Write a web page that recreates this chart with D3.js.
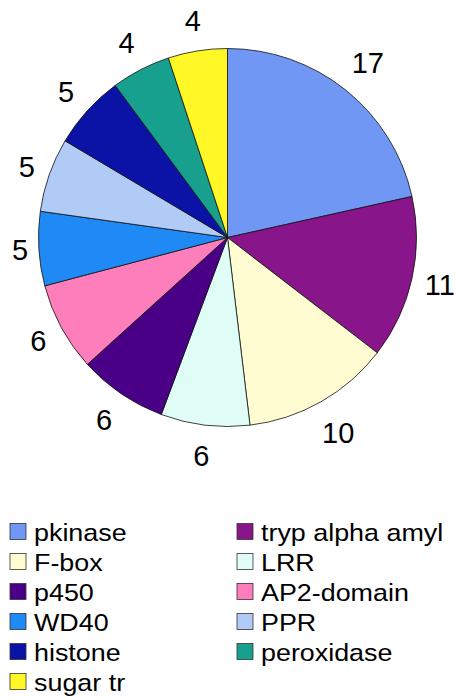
<!DOCTYPE html>
<html>
<head>
<meta charset="utf-8">
<script src="https://cdn.jsdelivr.net/npm/d3@7"></script>
<style>
  body { margin: 0; background: #fff; }
  text { font-family: "Liberation Sans", Arial, sans-serif; fill: #000; }
</style>
</head>
<body>
<div id="chart"></div>
<script>
// gene families, in clockwise order from 12 o'clock
const families = ["pkinase", "tryp alpha amyl", "F-box", "LRR", "p450", "AP2-domain",
                  "WD40", "PPR", "histone", "peroxidase", "sugar tr"];
const counts = [17, 11, 10, 6, 6, 6, 5, 5, 5, 4, 4];
const colors = ["#6f97f3", "#88168a", "#fffcd2", "#dffdf6", "#4a0086", "#fd7eba",
                "#1f8af5", "#b1cbf7", "#0b12a6", "#17a08e", "#fff726"];

const width = 458, height = 700;
const cx = 227.5, cy = 237.5, radius = 189;

const svg = d3.select("#chart")
    .append("svg")
    .attr("width", width)
    .attr("height", height);

svg.append("rect")
    .attr("width", width)
    .attr("height", height)
    .attr("fill", "#fff");

let data = families.map((f, i) => ({ name: f, value: counts[i], color: colors[i] }));

let pie = d3.pie()
    .sort(null)
    .value(d => d.value);

let arc = d3.arc()
    .innerRadius(0)
    .outerRadius(radius);

let arcs = pie(data);

let g = svg.append("g")
    .attr("transform", `translate(${cx},${cy})`);

g.selectAll("path.slice")
    .data(arcs)
    .enter()
    .append("path")
    .attr("class", "slice")
    .attr("d", arc)
    .attr("fill", d => d.data.color)
    .attr("stroke", "#111")
    .attr("stroke-width", 0.8);

// value labels, pushed outside the rim by the size of their box
let fontSize = 29;
let gap = 9.5;
g.selectAll("text.value")
    .data(arcs)
    .enter()
    .append("text")
    .attr("class", "value")
    .style("font-size", fontSize + "px")
    .attr("text-anchor", "middle")
    .text(d => d.data.value)
    .each(function(d) {
        let a = (d.startAngle + d.endAngle) / 2;
        let ux = Math.sin(a), uy = -Math.cos(a);
        let w = this.getComputedTextLength();
        let dist = radius + gap + Math.abs(ux) * w / 2 + Math.abs(uy) * 20;
        d3.select(this)
            .attr("x", ux * dist)
            .attr("y", uy * dist + fontSize * 0.36);
    });

// legend, two columns filled row by row
let legend = svg.append("g").attr("class", "legend");
let colX = [10, 237], textX = [34, 261];
let rowY0 = 531.5, rowStep = 30;

data.forEach((d, i) => {
    let col = i % 2, row = Math.floor(i / 2);
    let y = rowY0 + row * rowStep;
    legend.append("rect")
        .attr("x", colX[col])
        .attr("y", y - 8)
        .attr("width", 16)
        .attr("height", 16)
        .attr("fill", d.color)
        .attr("stroke", "#333")
        .attr("stroke-width", 0.8);
    legend.append("text")
        .attr("transform", `translate(${textX[col]},${y + 9.5}) scale(1.12,1)`)
        .style("font-size", "24px")
        .text(d.name);
});
</script>
</body>
</html>
